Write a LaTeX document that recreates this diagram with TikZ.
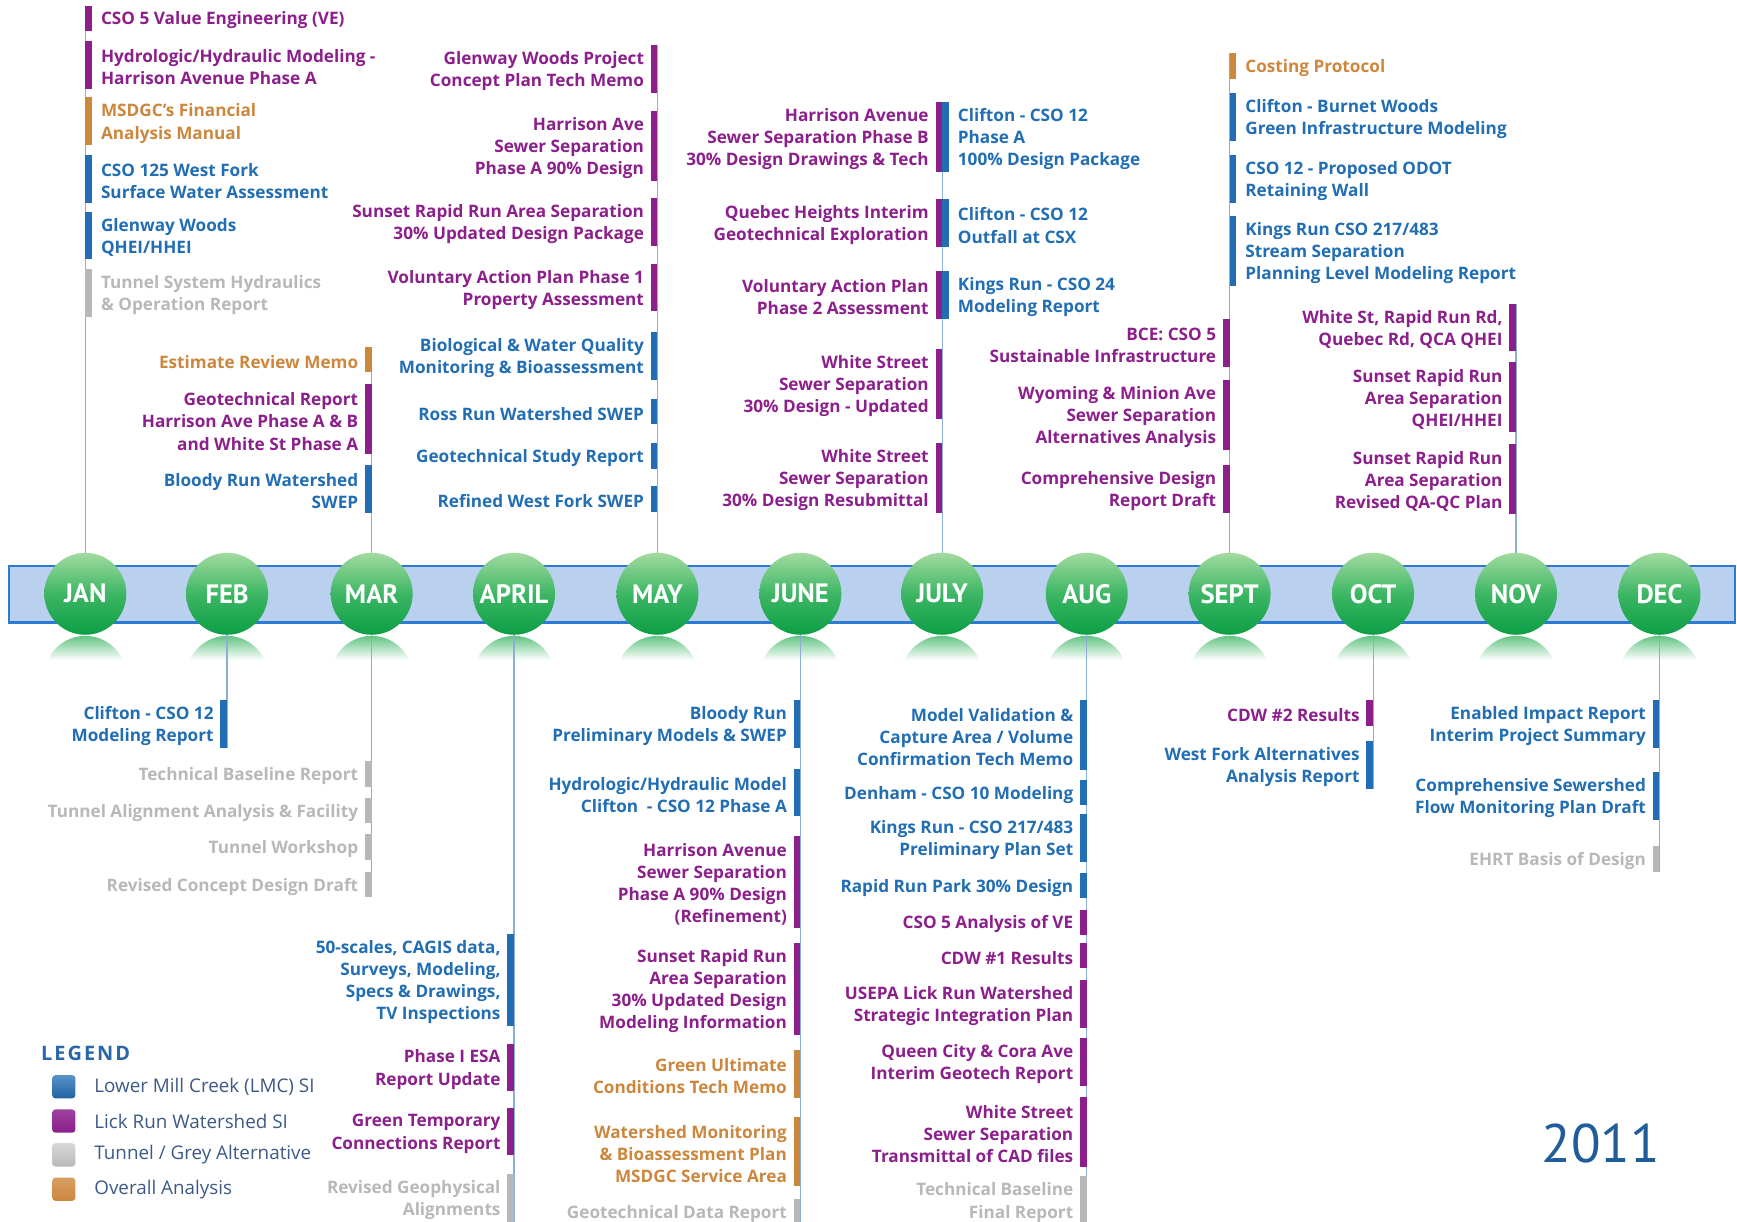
\documentclass[tikz,border=0pt]{standalone}
\usepackage{fontspec}
\setmainfont{Open Sans}
\newfontfamily\monthfont{PT Sans}
\newfontfamily\yearfont{PT Sans}
\pgfdeclarelayer{bg}
\pgfsetlayers{bg,main}

% category colours
\definecolor{lmc}{HTML}{216EB4}
\definecolor{lick}{HTML}{8C1F8C}
\definecolor{tunnel}{HTML}{B8B8B8}
\definecolor{overall}{HTML}{CD873D}
% timeline colours
\definecolor{axisline}{HTML}{8AAED8}
\definecolor{bandfill}{HTML}{B9D0EF}
\definecolor{bandedge}{HTML}{2C7BD0}
\definecolor{greentop}{HTML}{A2DBA0}
\definecolor{greenmid}{HTML}{3DB664}
\definecolor{greenbot}{HTML}{0C9E45}
\definecolor{legendhead}{HTML}{2A67AA}
\definecolor{legendtext}{HTML}{3D5A86}
\definecolor{yeartext}{HTML}{1E5C9A}

% entry with its text to the left of the bar: name, line x, bar top, lines, colour, text
\newcommand\entryL[6]{%
  \fill[#5] ({#2-6},{-#3}) rectangle (#2,{-(#3+20*#4+3)});
  \node[entry,text=#5,anchor=east,align=right] (#1) at ({#2-12},{-(#3+10*#4+3.5)}) {#6};
}
% entry with its text to the right of the bar
\newcommand\entryR[6]{%
  \fill[#5] (#2,{-#3}) rectangle ({#2+6},{-(#3+20*#4+3)});
  \node[entry,text=#5,anchor=west,align=left] (#1) at ({#2+14},{-(#3+10*#4+3.5)}) {#6};
}
% soft mirror image under a month disc
\newcommand\mirror[1]{%
  \begin{scope}
    \clip (#1,-611) circle (37);
    \shade[top color=greenmid!80!white, bottom color=white] ({#1-40},-574) rectangle ({#1+40},-596);
  \end{scope}
}

\begin{document}
\begin{tikzpicture}[x=1pt,y=1pt,
  entry/.style={inner sep=0pt, font=\fontsize{15.5pt}{20pt}\selectfont\bfseries},
  month/.style={circle, minimum size=74pt, inner sep=0pt,
    top color=greentop, bottom color=greenbot, middle color=greenmid,
    text=white, font=\monthfont\fontsize{24pt}{24pt}\selectfont\bfseries},
  axis/.style={draw=axisline, line width=1.1pt},
  legendkey/.style={rounded corners=3pt, minimum size=21pt, inner sep=0pt},
  legendlabel/.style={anchor=west, inner sep=0pt, text=legendtext,
    font=\fontsize{17pt}{18pt}\selectfont}]

\useasboundingbox (0,0) rectangle (1568,-1103);
\clip (0,0) rectangle (1568,-1103);

% the month band
\begin{pgfonlayer}{bg}
  \fill[white] (0,0) rectangle (1568,-1103);
  \node[draw=bandedge, fill=bandfill, line width=2pt, minimum width=1558pt,
        minimum height=51pt, inner sep=0pt] (band) at (787,-536.5) {};
\end{pgfonlayer}

% month discs
\node[month] (jan) at (77,-536) {JAN};
\node[month] (feb) at (205,-536) {FEB};
\node[month] (mar) at (335.5,-536) {MAR};
\node[month] (apr) at (464,-536) {APRIL};
\node[month] (may) at (593.5,-536) {MAY};
\node[month] (jun) at (722.5,-536) {JUNE};
\node[month] (jul) at (850.5,-536) {JULY};
\node[month] (aug) at (981,-536) {AUG};
\node[month] (sep) at (1110,-536) {SEPT};
\node[month] (oct) at (1239.5,-536) {OCT};
\node[month] (nov) at (1368.5,-536) {NOV};
\node[month] (dec) at (1498,-536) {DEC};

% ends of the stems
\coordinate (janend) at (77,-5);
\coordinate (febend) at (205,-675);
\coordinate (martop) at (335.5,-313);
\coordinate (marbot) at (335.5,-810);
\coordinate (aprend) at (464,-1103);
\coordinate (mayend) at (593.5,-41);
\coordinate (junend) at (722.5,-1103);
\coordinate (julend) at (850.5,-92);
\coordinate (augend) at (981,-1103);
\coordinate (sepend) at (1110,-48);
\coordinate (octend) at (1239.5,-712);
\coordinate (novend) at (1368.5,-274);
\coordinate (decend) at (1498,-787);

\begin{pgfonlayer}{bg}
  \foreach \mx in {77,205,335.5,464,593.5,722.5,850.5,981,1110,1239.5,1368.5,1498}{\mirror{\mx}}
  \draw[axis] (jan) -- (janend);
  \draw[axis] (feb) -- (febend);
  \draw[axis] (mar) -- (martop);
  \draw[axis] (mar) -- (marbot);
  \draw[axis] (apr) -- (aprend);
  \draw[axis] (may) -- (mayend);
  \draw[axis] (jun) -- (junend);
  \draw[axis] (jul) -- (julend);
  \draw[axis] (aug) -- (augend);
  \draw[axis] (sep) -- (sepend);
  \draw[axis] (oct) -- (octend);
  \draw[axis] (nov) -- (novend);
  \draw[axis] (dec) -- (decend);
\end{pgfonlayer}

% January
\entryR{jan1}{77}{5}{1}{lick}{CSO 5 Value Engineering (VE)}
\entryR{jan2}{77}{37}{2}{lick}{Hydrologic/Hydraulic Modeling -\\Harrison Avenue Phase A}
\entryR{jan3}{77}{88}{2}{overall}{MSDGC's Financial\\Analysis Manual}
\entryR{jan4}{77}{140}{2}{lmc}{CSO 125 West Fork\\Surface Water Assessment}
\entryR{jan5}{77}{191}{2}{lmc}{Glenway Woods\\QHEI/HHEI}
\entryR{jan6}{77}{243}{2}{tunnel}{Tunnel System Hydraulics\\\& Operation Report}

% March, above
\entryL{mar1}{335.5}{313}{1}{overall}{Estimate Review Memo}
\entryL{mar2}{335.5}{347}{3}{lick}{Geotechnical Report\\Harrison Ave Phase A \& B\\and White St Phase A}
\entryL{mar3}{335.5}{420}{2}{lmc}{Bloody Run Watershed\\SWEP}

% May
\entryL{may1}{593.5}{41}{2}{lick}{Glenway Woods Project\\Concept Plan Tech Memo}
\entryL{may2}{593.5}{100}{3}{lick}{Harrison Ave\\Sewer Separation\\Phase A 90\% Design}
\entryL{may3}{593.5}{179}{2}{lick}{Sunset Rapid Run Area Separation\\30\% Updated Design Package}
\entryL{may4}{593.5}{238}{2}{lick}{Voluntary Action Plan Phase 1\\Property Assessment}
\entryL{may5}{593.5}{300}{2}{lmc}{Biological \& Water Quality\\Monitoring \& Bioassessment}
\entryL{may6}{593.5}{360}{1}{lmc}{Ross Run Watershed SWEP}
\entryL{may7}{593.5}{400}{1}{lmc}{Geotechnical Study Report}
\entryL{may8}{593.5}{439}{1}{lmc}{Refined West Fork SWEP}

% July
\entryL{jul1}{850.5}{92}{3}{lick}{Harrison Avenue\\Sewer Separation Phase B\\30\% Design Drawings \& Tech}
\entryL{jul2}{850.5}{180}{2}{lick}{Quebec Heights Interim\\Geotechnical Exploration}
\entryL{jul3}{850.5}{245}{2}{lick}{Voluntary Action Plan\\Phase 2 Assessment}
\entryL{jul4}{850.5}{315}{3}{lick}{White Street\\Sewer Separation\\30\% Design - Updated}
\entryL{jul5}{850.5}{400}{3}{lick}{White Street\\Sewer Separation\\30\% Design Resubmittal}
\entryR{jul6}{850.5}{92}{3}{lmc}{Clifton - CSO 12\\Phase A\\100\% Design Package}
\entryR{jul7}{850.5}{180}{2}{lmc}{Clifton - CSO 12\\Outfall at CSX}
\entryR{jul8}{850.5}{245}{2}{lmc}{Kings Run - CSO 24\\Modeling Report}

% September
\entryR{sep1}{1110}{48}{1}{overall}{Costing Protocol}
\entryR{sep2}{1110}{84}{2}{lmc}{Clifton - Burnet Woods\\Green Infrastructure Modeling}
\entryR{sep3}{1110}{140}{2}{lmc}{CSO 12 - Proposed ODOT\\Retaining Wall}
\entryR{sep4}{1110}{195}{3}{lmc}{Kings Run CSO 217/483\\Stream Separation\\Planning Level Modeling Report}
\entryL{sep5}{1110}{288}{2}{lick}{BCE: CSO 5\\Sustainable Infrastructure}
\entryL{sep6}{1110}{343}{3}{lick}{Wyoming \& Minion Ave\\Sewer Separation\\Alternatives Analysis}
\entryL{sep7}{1110}{420}{2}{lick}{Comprehensive Design\\Report Draft}

% November
\entryL{nov1}{1368.5}{274}{2}{lick}{White St, Rapid Run Rd,\\Quebec Rd, QCA QHEI}
\entryL{nov2}{1368.5}{327}{3}{lick}{Sunset Rapid Run\\Area Separation\\QHEI/HHEI}
\entryL{nov3}{1368.5}{401}{3}{lick}{Sunset Rapid Run\\Area Separation\\Revised QA-QC Plan}

% February
\entryL{feb1}{205}{632}{2}{lmc}{Clifton - CSO 12\\Modeling Report}

% March, below
\entryL{mar4}{335.5}{687}{1}{tunnel}{Technical Baseline Report}
\entryL{mar5}{335.5}{720}{1}{tunnel}{Tunnel Alignment Analysis \& Facility}
\entryL{mar6}{335.5}{753}{1}{tunnel}{Tunnel Workshop}
\entryL{mar7}{335.5}{787}{1}{tunnel}{Revised Concept Design Draft}

% April
\entryL{apr1}{464}{843}{4}{lmc}{50-scales, CAGIS data,\\Surveys, Modeling,\\Specs \& Drawings,\\TV Inspections}
\entryL{apr2}{464}{942}{2}{lick}{Phase I ESA\\Report Update}
\entryL{apr3}{464}{1000}{2}{lick}{Green Temporary\\Connections Report}
\entryL{apr4}{464}{1060}{2}{tunnel}{Revised Geophysical\\Alignments}

% June
\entryL{jun1}{722.5}{632}{2}{lmc}{Bloody Run\\Preliminary Models \& SWEP}
\entryL{jun2}{722.5}{694}{2}{lmc}{Hydrologic/Hydraulic Model\\Clifton\enspace- CSO 12 Phase A}
\entryL{jun3}{722.5}{755}{4}{lick}{Harrison Avenue\\Sewer Separation\\Phase A 90\% Design\\(Refinement)}
\entryL{jun4}{722.5}{851}{4}{lick}{Sunset Rapid Run\\Area Separation\\30\% Updated Design\\Modeling Information}
\entryL{jun5}{722.5}{948}{2}{overall}{Green Ultimate\\Conditions Tech Memo}
\entryL{jun6}{722.5}{1008}{3}{overall}{Watershed Monitoring\\\& Bioassessment Plan\\MSDGC Service Area}
\entryL{jun7}{722.5}{1082}{1}{tunnel}{Geotechnical Data Report}

% August
\entryL{aug1}{981}{632}{3}{lmc}{Model Validation \&\\Capture Area / Volume\\Confirmation Tech Memo}
\entryL{aug2}{981}{704}{1}{lmc}{Denham - CSO 10 Modeling}
\entryL{aug3}{981}{735}{2}{lmc}{Kings Run - CSO 217/483\\Preliminary Plan Set}
\entryL{aug4}{981}{788}{1}{lmc}{Rapid Run Park 30\% Design}
\entryL{aug5}{981}{821}{1}{lick}{CSO 5 Analysis of VE}
\entryL{aug6}{981}{851}{1}{lick}{CDW \#1 Results}
\entryL{aug7}{981}{885}{2}{lick}{USEPA Lick Run Watershed\\Strategic Integration Plan}
\entryL{aug8}{981}{937}{2}{lick}{Queen City \& Cora Ave\\Interim Geotech Report}
\entryL{aug9}{981}{990}{3}{lick}{White Street\\Sewer Separation\\Transmittal of CAD files}
\entryL{aug10}{981}{1062}{2}{tunnel}{Technical Baseline\\Final Report}

% October
\entryL{oct1}{1239.5}{632}{1}{lick}{CDW \#2 Results}
\entryL{oct2}{1239.5}{669}{2}{lmc}{West Fork Alternatives\\Analysis Report}

% December
\entryL{dec1}{1498}{632}{2}{lmc}{Enabled Impact Report\\Interim Project Summary}
\entryL{dec2}{1498}{697}{2}{lmc}{Comprehensive Sewershed\\Flow Monitoring Plan Draft}
\entryL{dec3}{1498}{764}{1}{tunnel}{EHRT Basis of Design}

% legend
\node[anchor=west, inner sep=0pt, text=legendhead,
      font=\fontsize{18pt}{18pt}\selectfont\bfseries\addfontfeatures{LetterSpace=10}] (legend) at (37,-951) {LEGEND};
\node[legendkey, top color=lmc!75!white, bottom color=lmc!90!black] (key1) at (57.6,-981) {};
\node[legendkey, top color=lick!85!white, bottom color=lick] (key2) at (57.6,-1012) {};
\node[legendkey, top color=tunnel!55!white, bottom color=tunnel] (key3) at (57.6,-1042.5) {};
\node[legendkey, top color=overall!80!white, bottom color=overall] (key4) at (57.6,-1073.5) {};
\node[legendlabel] (lab1) at (85,-981) {Lower Mill Creek (LMC) SI};
\node[legendlabel] (lab2) at (85,-1012) {Lick Run Watershed SI};
\node[legendlabel] (lab3) at (85,-1042.5) {Tunnel / Grey Alternative};
\node[legendlabel] (lab4) at (85,-1073.5) {Overall Analysis};

% year
\node[inner sep=0pt, text=yeartext, font=\yearfont\fontsize{49pt}{49pt}\selectfont] (year) at (1445,-1032) {2011};
\end{tikzpicture}
\end{document}
